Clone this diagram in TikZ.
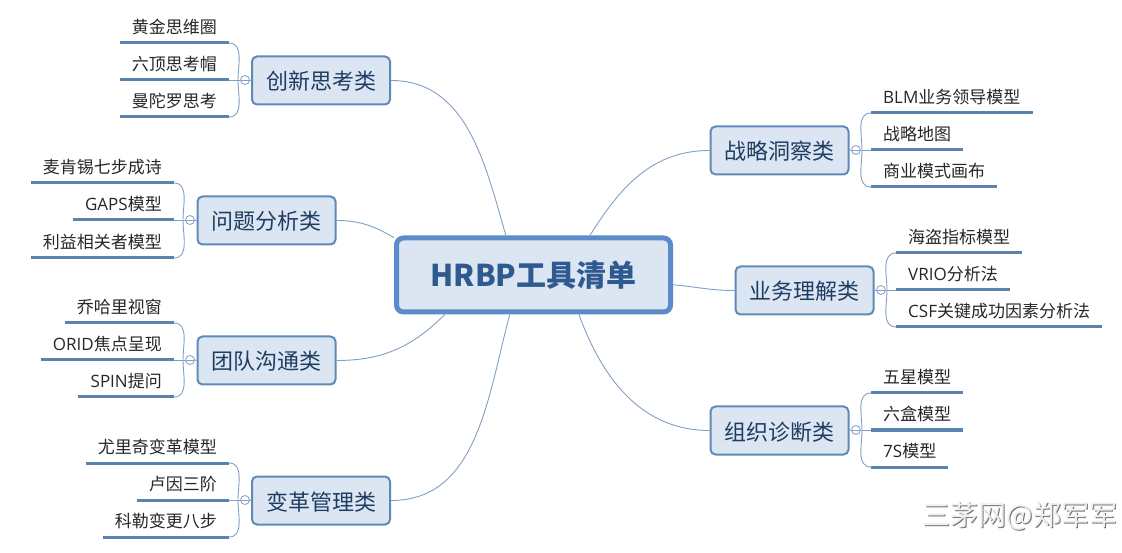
\documentclass[tikz,border=0pt]{standalone}
\usepackage{fontspec}
\usepackage{xcolor}
\setmainfont{Noto Sans CJK SC}
\newfontfamily\latinfont{Open Sans}
\usetikzlibrary{positioning}
\definecolor{boxfill}{HTML}{DCE6F2}
\definecolor{boxline}{HTML}{5F8AB8}
\definecolor{hubline}{HTML}{5B8BC8}
\definecolor{hubtext}{HTML}{2F5A8F}
\definecolor{branchtext}{HTML}{1F3D63}
\definecolor{linkline}{HTML}{809FC4}
\definecolor{underline}{HTML}{5B83B0}
\tikzset{
  hub/.style={draw=hubline,fill=boxfill,line width=5pt,rounded corners=7pt,minimum width=274pt,minimum height=74pt,text=hubtext,font=\fontsize{30}{34}\selectfont\bfseries},
  branch/.style={draw=boxline,fill=boxfill,line width=2pt,rounded corners=5pt,minimum width=138pt,minimum height=48pt,text height=22pt,text depth=3pt,text=branchtext,font=\fontsize{22}{26}\selectfont},
  leaf/.style={inner xsep=12pt,inner ysep=0pt,minimum height=32pt,text=black!85,font=\fontsize{17}{20}\selectfont},
  leafline/.style={draw=underline,line width=3pt},
  link/.style={draw=linkline,line width=.9pt},
  fold/.style={circle,draw=linkline,line width=.8pt,fill=white,inner sep=0pt,minimum size=9pt,path picture={\draw[linkline,line width=.8pt] (path picture bounding box.west)--(path picture bounding box.east);}},
}
\begin{document}
\begin{tikzpicture}[x=1pt,y=1pt]
\useasboundingbox (0,0) rectangle (1122,552);
% centre and branches
\node[hub] (hub) at (533.5,277) {HRBP工具清单};
\node[branch] (inno) at (321,471.5) {创新思考类};
\node[branch] (issue) at (266.5,331.5) {问题分析类};
\node[branch] (team) at (266.5,191.5) {团队沟通类};
\node[branch] (change) at (321,51.5) {变革管理类};
\node[branch] (insight) at (779.5,401.5) {战略洞察类};
\node[branch] (biz) at (804.5,261.5) {业务理解类};
\node[branch] (org) at (779.5,121.5) {组织诊断类};
\draw[link] (inno.east) to[out=0,in=106] (hub.125);
\draw[link] (issue.east) to[out=0,in=150] (hub.165);
\draw[link] (team.east) to[out=0,in=225] (hub.204);
\draw[link] (change.east) to[out=0,in=255] (hub.239);
\draw[link] (insight.west) to[out=180,in=58] (hub.35);
\draw[link] (biz.west) to[out=180,in=-5] (hub.-4);
\draw[link] (org.west) to[out=180,in=290] (hub.-41);
% left, top
\node[leaf,anchor=south east] (a1) at (229,509) {黄金思维圈};
\node[leaf,anchor=south east] (a2) at (229,472) {六顶思考帽};
\node[leaf,anchor=south east] (a3) at (229,435) {曼陀罗思考};
\node[fold] (f1) at (245,472) {};
\coordinate (s1) at (238,472);
\draw[link] (inno.west) -- (f1.east);
\draw[link] (f1.west) -- (a2.south east);
\draw[link] (s1) to[out=90,in=0] (a1.south east);
\draw[link] (s1) to[out=-90,in=0] (a3.south east);
\draw[leafline] (a1.south west) -- (a1.south east);
\draw[leafline] (a2.south west) -- (a2.south east);
\draw[leafline] (a3.south west) -- (a3.south east);
% left, second
\node[leaf,anchor=south east] (b1) at (174,369) {麦肯锡七步成诗};
\node[leaf,anchor=south east] (b2) at (174,332) {{\latinfont GAPS}模型};
\node[leaf,anchor=south east] (b3) at (174,294) {利益相关者模型};
\node[fold] (f2) at (190,332) {};
\coordinate (s2) at (183,332);
\draw[link] (issue.west) -- (f2.east);
\draw[link] (f2.west) -- (b2.south east);
\draw[link] (s2) to[out=90,in=0] (b1.south east);
\draw[link] (s2) to[out=-90,in=0] (b3.south east);
\draw[leafline] (b1.south west) -- (b1.south east);
\draw[leafline] (b2.south west) -- (b2.south east);
\draw[leafline] (b3.south west) -- (b3.south east);
% left, third
\node[leaf,anchor=south east] (c1) at (174,229) {乔哈里视窗};
\node[leaf,anchor=south east] (c2) at (174,192) {{\latinfont ORID}焦点呈现};
\node[leaf,anchor=south east] (c3) at (174,155) {{\latinfont SPIN}提问};
\node[fold] (f3) at (190,192) {};
\coordinate (s3) at (183,192);
\draw[link] (team.west) -- (f3.east);
\draw[link] (f3.west) -- (c2.south east);
\draw[link] (s3) to[out=90,in=0] (c1.south east);
\draw[link] (s3) to[out=-90,in=0] (c3.south east);
\draw[leafline] (c1.south west) -- (c1.south east);
\draw[leafline] (c2.south west) -- (c2.south east);
\draw[leafline] (c3.south west) -- (c3.south east);
% left, bottom
\node[leaf,anchor=south east] (d1) at (229,89) {尤里奇变革模型};
\node[leaf,anchor=south east] (d2) at (229,52) {卢因三阶};
\node[leaf,anchor=south east] (d3) at (229,15) {科勒变更八步};
\node[fold] (f4) at (245,52) {};
\coordinate (s4) at (238,52);
\draw[link] (change.west) -- (f4.east);
\draw[link] (f4.west) -- (d2.south east);
\draw[link] (s4) to[out=90,in=0] (d1.south east);
\draw[link] (s4) to[out=-90,in=0] (d3.south east);
\draw[leafline] (d1.south west) -- (d1.south east);
\draw[leafline] (d2.south west) -- (d2.south east);
\draw[leafline] (d3.south west) -- (d3.south east);
% right, top
\node[leaf,anchor=south west] (e1) at (871,439) {{\latinfont BLM}业务领导模型};
\node[leaf,anchor=south west] (e2) at (871,402) {战略地图};
\node[leaf,anchor=south west] (e3) at (871,365) {商业模式画布};
\node[fold] (f5) at (856,402) {};
\coordinate (s5) at (862,402);
\draw[link] (insight.east) -- (f5.west);
\draw[link] (f5.east) -- (e2.south west);
\draw[link] (s5) to[out=90,in=180] (e1.south west);
\draw[link] (s5) to[out=-90,in=180] (e3.south west);
\draw[leafline] (e1.south west) -- (e1.south east);
\draw[leafline] (e2.south west) -- (e2.south east);
\draw[leafline] (e3.south west) -- (e3.south east);
% right, middle
\node[leaf,anchor=south west] (g1) at (896,299) {海盗指标模型};
\node[leaf,anchor=south west] (g2) at (896,262) {{\latinfont VRIO}分析法};
\node[leaf,anchor=south west] (g3) at (896,225) {{\latinfont CSF}关键成功因素分析法};
\node[fold] (f6) at (881,262) {};
\coordinate (s6) at (887,262);
\draw[link] (biz.east) -- (f6.west);
\draw[link] (f6.east) -- (g2.south west);
\draw[link] (s6) to[out=90,in=180] (g1.south west);
\draw[link] (s6) to[out=-90,in=180] (g3.south west);
\draw[leafline] (g1.south west) -- (g1.south east);
\draw[leafline] (g2.south west) -- (g2.south east);
\draw[leafline] (g3.south west) -- (g3.south east);
% right, bottom
\node[leaf,anchor=south west] (h1) at (871,159) {五星模型};
\node[leaf,anchor=south west] (h2) at (871,122) {六盒模型};
\node[leaf,anchor=south west] (h3) at (871,85) {{\latinfont 7S}模型};
\node[fold] (f7) at (856,122) {};
\coordinate (s7) at (862,122);
\draw[link] (org.east) -- (f7.west);
\draw[link] (f7.east) -- (h2.south west);
\draw[link] (s7) to[out=90,in=180] (h1.south west);
\draw[link] (s7) to[out=-90,in=180] (h3.south west);
\draw[leafline] (h1.south west) -- (h1.south east);
\draw[leafline] (h2.south west) -- (h2.south east);
\draw[leafline] (h3.south west) -- (h3.south east);
% watermark
\node[text=black!55,font=\fontsize{28}{30}\selectfont,anchor=east] (markb) at (1122,35) {三茅网@郑军军};
\node[text=black!6,font=\fontsize{28}{30}\selectfont,anchor=east] (mark) at (1121,36) {三茅网@郑军军};
\end{tikzpicture}
\end{document}
